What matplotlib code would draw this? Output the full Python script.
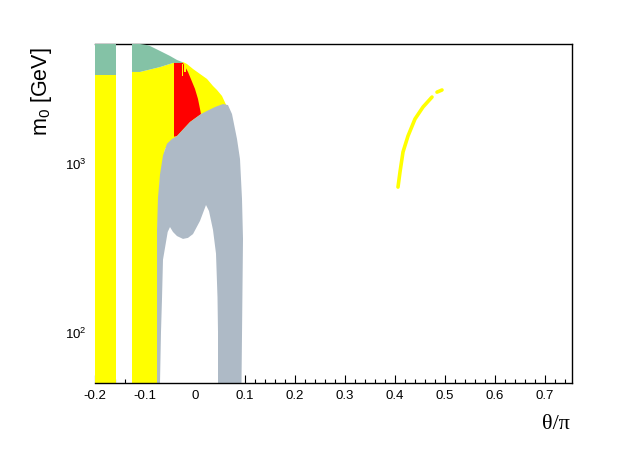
import matplotlib
matplotlib.use("Agg")
import matplotlib.pyplot as plt
from matplotlib.ticker import FixedLocator, MultipleLocator, FuncFormatter, NullLocator

plt.rcParams['font.family'] = ['Liberation Sans', 'DejaVu Sans']
plt.rcParams['mathtext.fontset'] = 'custom'
plt.rcParams['mathtext.rm'] = 'Liberation Sans'
plt.rcParams['mathtext.it'] = 'Liberation Sans:italic'
plt.rcParams['axes.unicode_minus'] = False

# ---- data: region boundaries (theta/pi, m0 [GeV]) ----
strip1_yellow_theta = [-0.2, -0.1586, -0.1586, -0.2]
strip1_yellow_m0 = [50, 50, 3280, 3280]
strip1_green_theta = [-0.2, -0.1586, -0.1586, -0.2]
strip1_green_m0 = [3280, 3280, 5000, 5000]

green_theta = [-0.126, -0.11, -0.096, -0.09, -0.07, -0.05, -0.036, -0.026, -0.024,
               -0.044, -0.07, -0.11, -0.126]
green_m0 = [5000, 5000, 4930, 4865, 4550, 4250, 4025, 3917, 3865,
            3865, 3656, 3420, 3420]

yellow_theta = [-0.126, -0.126, -0.11, -0.07, -0.044, -0.024, -0.016, -0.004, 0.01,
                0.024, 0.036, 0.044, 0.054, 0.062, 0.066, 0.02, -0.03, -0.06, -0.07, -0.076, -0.076]
yellow_m0 = [50, 3420, 3420, 3656, 3865, 3917, 3810, 3562, 3328,
             3110, 2826, 2677, 2468, 2193, 2124, 1900, 1450, 1202, 800, 354, 50]

red_theta = [-0.042, -0.042, -0.024, -0.014, 0.0, 0.006, 0.01, 0.012, -0.01, -0.036, -0.042]
red_m0 = [1420, 3865, 3865, 3420, 2716, 2368, 2070, 1931, 1733, 1433, 1420]

sliver_theta = [[-0.0266, -0.0234, -0.0234, -0.0266], [-0.0212, -0.0186, -0.0186, -0.0212]]
sliver_m0 = [[3800, 3800, 3220, 3220], [3800, 3800, 3420, 3420]]

grey_theta = [-0.076, -0.076, -0.074, -0.07, -0.064, -0.056, -0.046, -0.036, -0.01, 0.012, 0.024, 0.04,
              0.056, 0.066, 0.074, 0.084, 0.09, 0.094, 0.096, 0.093]
grey_m0 = [50, 400, 620, 850, 1100, 1290, 1376, 1433, 1733, 1931, 2014, 2124,
           2212, 2180, 1931, 1376, 1048, 609, 354, 50]

hole_theta = [-0.07, -0.068, -0.066, -0.064, -0.0546, -0.05, -0.044, -0.036, -0.024, -0.014,
              -0.004, 0.01, 0.022, 0.028, 0.036, 0.042, 0.045, 0.046, 0.046]
hole_m0 = [50, 100, 157, 267, 389, 416, 389, 368, 354, 359,
           378, 452, 561, 517, 400, 290, 160, 100, 50]

arc1_theta = [0.406, 0.41, 0.416, 0.426, 0.44, 0.456, 0.474]
arc1_m0 = [716, 879, 1153, 1433, 1806, 2124, 2432]
arc2_theta = [0.484, 0.494]
arc2_m0 = [2600, 2677]

x_major = [-0.2, -0.1, 0.0, 0.1, 0.2, 0.3, 0.4, 0.5, 0.6, 0.7]
y_major = [100, 1000]
y_labels = [r'$10^{2}$', r'$10^{3}$']

YELLOW = '#FFFF00'
GREEN = '#84C2A6'
RED = '#FF0000'
GREY = '#AEBAC6'

fig = plt.figure(figsize=(6.36, 4.52), dpi=100)
ax = fig.add_axes([95/636, 1-384/452, 477/636, 339/452])
ax.set_yscale('log')
ax.set_xlim(-0.2, 0.754)
ax.set_ylim(50, 5000)

kw = dict(lw=0, zorder=3)
ax.fill(strip1_yellow_theta, strip1_yellow_m0, color=YELLOW, **kw)
ax.fill(strip1_green_theta, strip1_green_m0, color=GREEN, **kw)
ax.fill(yellow_theta, yellow_m0, color=YELLOW, **kw)
ax.fill(green_theta, green_m0, color=GREEN, **kw)
ax.fill(red_theta, red_m0, color=RED, **kw)
for st, sm in zip(sliver_theta, sliver_m0):
    ax.fill(st, sm, color=YELLOW, **kw)
ax.fill(grey_theta, grey_m0, color=GREY, **kw)
ax.fill(hole_theta, hole_m0, color='white', **kw)
ax.plot(arc1_theta, arc1_m0, color=YELLOW, lw=2.6, solid_capstyle='round', zorder=3)
ax.plot(arc2_theta, arc2_m0, color=YELLOW, lw=2.6, solid_capstyle='round', zorder=3)

ax.spines['left'].set_visible(False)
for s in ['top', 'right']:
    ax.spines[s].set_linewidth(1.0)
    ax.spines[s].set_zorder(2.5)
ax.spines['bottom'].set_linewidth(1.0)
ax.spines['bottom'].set_zorder(4)

ax.xaxis.set_major_locator(FixedLocator(x_major))
ax.xaxis.set_minor_locator(MultipleLocator(0.02))
ax.xaxis.set_major_formatter(FuncFormatter(lambda v, p: f"{v:g}" if abs(v) > 1e-9 else "0"))
ax.tick_params(axis='x', which='major', direction='in', length=6, width=0.8, pad=4,
               labelsize=9.5, top=False)
ax.tick_params(axis='x', which='minor', direction='in', length=3.2, width=0.8, top=False)

ax.yaxis.set_major_locator(FixedLocator(y_major))
ax.yaxis.set_minor_locator(NullLocator())
ax.set_yticklabels(y_labels)
ax.tick_params(axis='y', which='major', length=0, pad=6, labelsize=9.5, right=False)

fig.text(41/636, 1-47/452, r'm$_0$ [GeV]', rotation=90, ha='center', va='top', fontsize=15.5)
fig.text(570/636, 1-425/452, 'θ/π', ha='right', va='center', fontsize=16,
         family=['Liberation Serif', 'DejaVu Serif'])

fig.savefig('out.png', dpi=100)
